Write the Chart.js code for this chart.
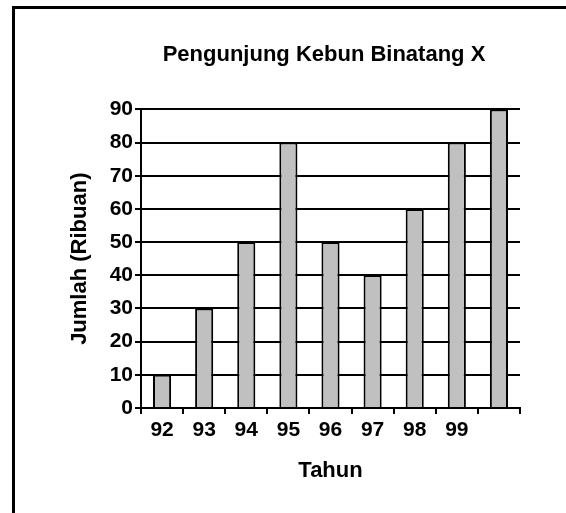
<!DOCTYPE html>
<html>
<head>
<meta charset="utf-8">
<script src="https://cdn.jsdelivr.net/npm/chart.js@4/dist/chart.umd.min.js"></script>
<style>
  html, body { margin: 0; padding: 0; background: #fff; overflow: hidden; }
  #frame { position: absolute; left: 12px; top: 6px; width: 700px; height: 700px; border: 3px solid #000; }
  #wrap { position: absolute; left: 0; top: 0; width: 566px; height: 513px; }
</style>
</head>
<body>
<div id="frame"></div>
<div id="wrap"><canvas id="c" width="566" height="513"></canvas></div>
<script>
// data (the 9th bar has no year label)
const YEARS = ['92', '93', '94', '95', '96', '97', '98', '99', ''];
const VISITORS = [10, 30, 50, 80, 50, 40, 60, 80, 90];
const Y_MIN = 0, Y_MAX = 90, Y_STEP = 10;

const FONT = '"Liberation Sans", Arial, sans-serif';

// nudge the title a bit left of the plot centre, as in the source
const titleNudge = {
  id: 'titleNudge',
  afterLayout(c) {
    const t = c.titleBlock;
    if (t) t.left -= 13;
  }
};

new Chart(document.getElementById('c'), {
  type: 'bar',
  data: {
    labels: YEARS,
    datasets: [{
      data: VISITORS,
      backgroundColor: '#c0c0c0',
      borderColor: '#000',
      borderWidth: 2,
      categoryPercentage: 1,
      barPercentage: 0.43
    }]
  },
  options: {
    responsive: false,
    animation: false,
    layout: { padding: { left: 0, top: 0, right: 46, bottom: 0 } },
    plugins: {
      legend: { display: false },
      tooltip: { enabled: false },
      title: {
        display: true,
        fullSize: false,
        text: 'Pengunjung Kebun Binatang X',
        color: '#000',
        font: { family: FONT, size: 22, weight: 'bold' },
        padding: { top: 42, bottom: 41 }
      }
    },
    scales: {
      x: {
        grid: { drawOnChartArea: false, offset: true, color: '#000', lineWidth: 2, tickLength: 6 },
        border: { display: true, color: '#000', width: 2 },
        ticks: { color: '#000', padding: 4, maxRotation: 0, autoSkip: false, font: { family: FONT, size: 21, weight: 'bold' } },
        title: {
          display: true,
          text: 'Tahun',
          color: '#000',
          font: { family: FONT, size: 22, weight: 'bold' },
          padding: { top: 0, bottom: 29 }
        },
        afterFit(s) { s.height = 105; }
      },
      y: {
        min: Y_MIN,
        max: Y_MAX,
        grid: { color: '#000', lineWidth: 2, tickLength: 6 },
        border: { display: true, color: '#000', width: 2 },
        ticks: { stepSize: Y_STEP, color: '#000', padding: 2, font: { family: FONT, size: 21, weight: 'bold' } },
        title: {
          display: true,
          text: 'Jumlah (Ribuan)',
          color: '#000',
          font: { family: FONT, size: 22, weight: 'bold' },
          padding: { top: 67, bottom: 0 }
        },
        afterFit(s) { s.width = 141; }
      }
    }
  },
  plugins: [titleNudge]
});
</script>
</body>
</html>
